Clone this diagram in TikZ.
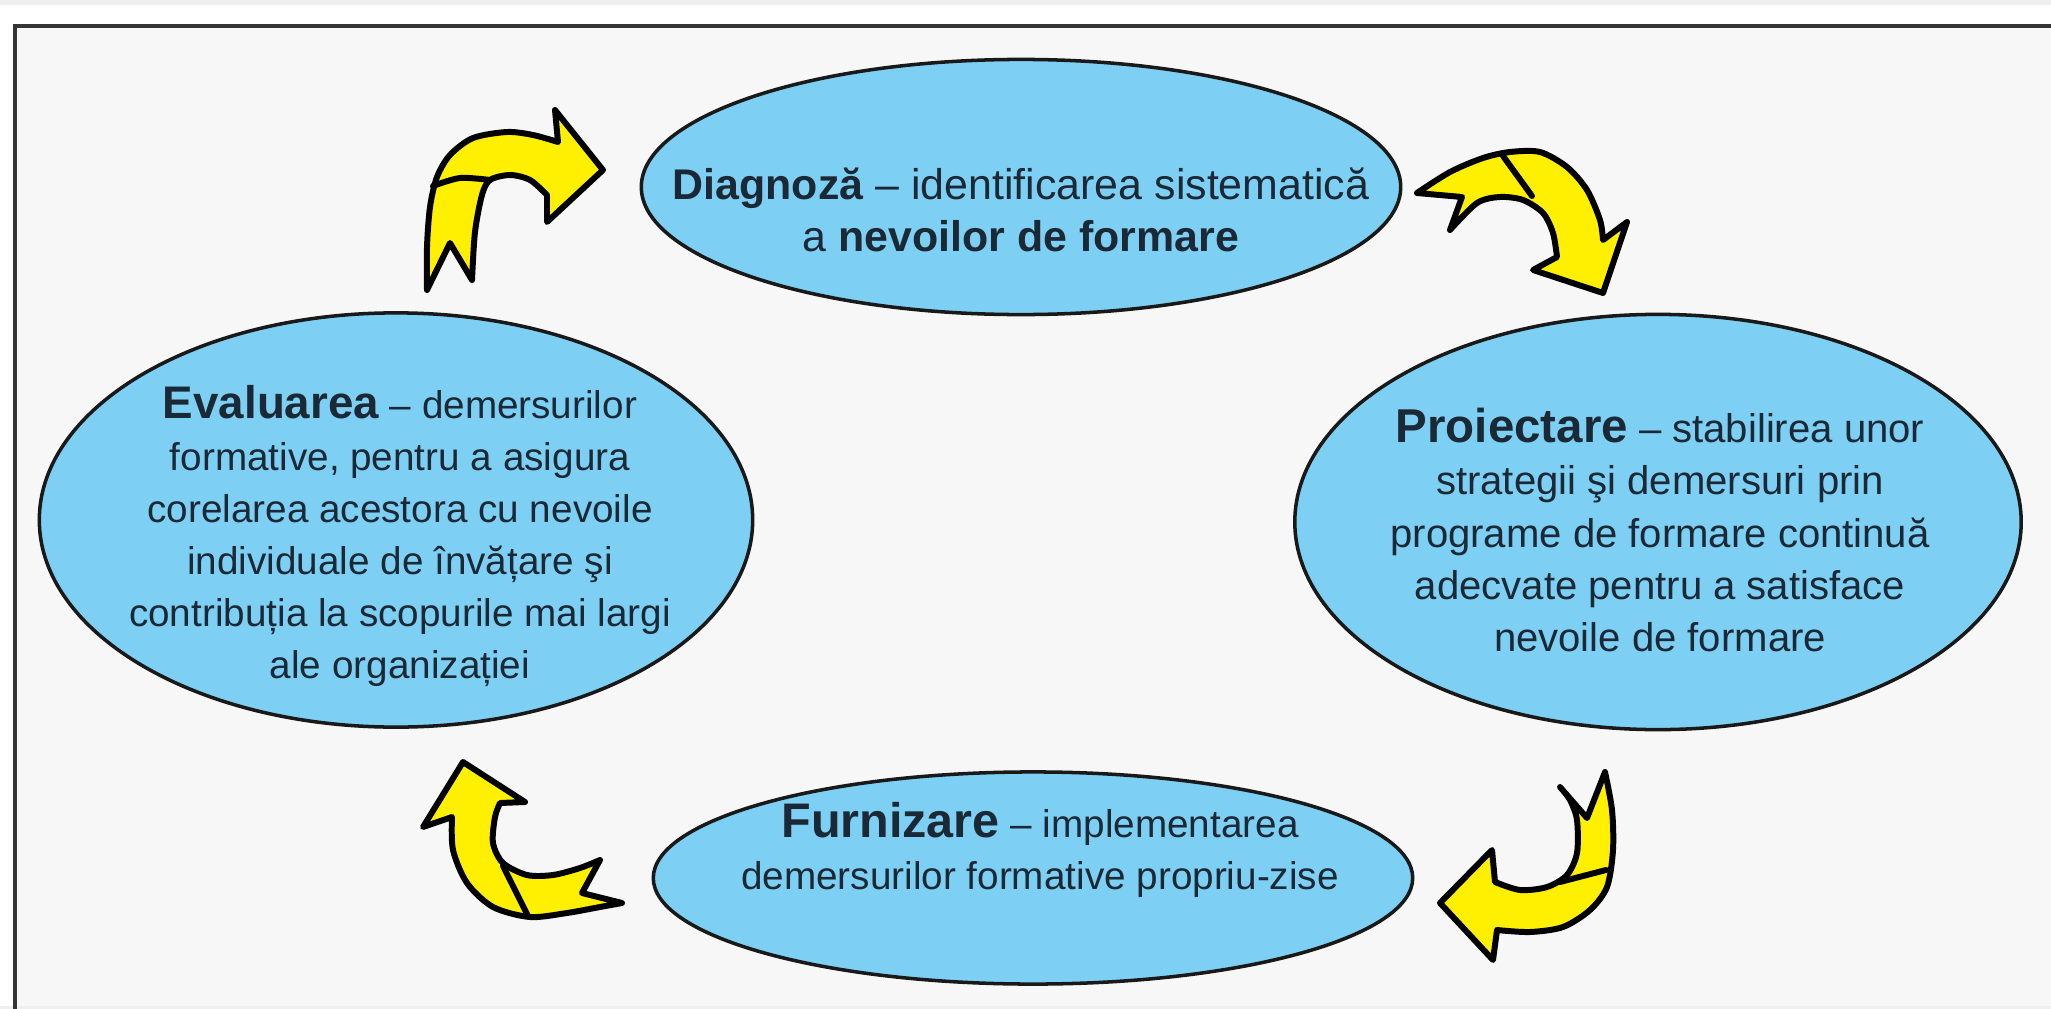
\documentclass[tikz,border=0pt]{standalone}
\usepackage{fontspec}
\setmainfont{Liberation Sans}
\usetikzlibrary{shapes.geometric}
\definecolor{bgc}{HTML}{F7F7F7}
\definecolor{topg}{HTML}{EFEFED}
\definecolor{framec}{HTML}{353535}
\definecolor{blobc}{HTML}{7DD0F3}
\definecolor{txtc}{HTML}{1B2835}
\definecolor{arrc}{HTML}{FFEF00}
\tikzset{
  blob/.style={ellipse, draw=black!90, line width=1pt, fill=blobc, inner sep=0pt},
  txt/.style={align=center, text=txtc, font=\fontsize{11.4}{14.8}\selectfont, inner sep=0pt},
  arr/.style={fill=arrc, draw=black, line width=1.7pt, line join=round},
  fold/.style={draw=black, line width=1.7pt, line cap=round}
}
\newcommand{\hdg}[2]{{\fontsize{#1}{14.8}\selectfont\bfseries #2}}
\begin{document}
\begin{tikzpicture}[x=0.01cm,y=-0.01cm]
\useasboundingbox (0,0) rectangle (2051,1009);
\fill[white] (0,0) rectangle (2051,1009);
\fill[topg] (0,0) rectangle (2051,5);
\fill[bgc] (15,26) rectangle (2051,1009);
\fill[topg] (0,1006) rectangle (2051,1009);
\draw[framec, line width=1.1pt] (2051,26) -- (15,26) -- (15,1009);

% ellipses
\node[blob, minimum width=7.59cm, minimum height=2.55cm] (diag) at (1021,187) {};
\node[blob, minimum width=7.26cm, minimum height=4.15cm] (proi) at (1658,522) {};
\node[blob, minimum width=7.13cm, minimum height=4.14cm] (eval) at (396,520) {};
\node[blob, minimum width=7.59cm, minimum height=2.12cm] (furn) at (1033,878) {};

% texts
\node[txt, font=\fontsize{12.2}{14.8}\selectfont] (diagT) at (1021,210) {\textbf{Diagnoză} – identificarea sistematică\\ a \textbf{nevoilor de formare}};
\node[txt] (proiT) at (1660,530) {\hdg{13.5}{Proiectare} – stabilirea unor\\ strategii şi demersuri prin\\ programe de formare continuă\\ adecvate pentru a satisface\\ nevoile de formare};
\node[txt, font=\fontsize{11}{14.8}\selectfont] (evalT) at (400,536) {\hdg{13}{Evaluarea} – demersurilor\\ formative, pentru a asigura\\ corelarea acestora cu nevoile\\ individuale de învățare şi\\ contribuția la scopurile mai largi\\ ale organizației};
\node[txt, font=\fontsize{11}{14.8}\selectfont] (furnT) at (1040,850) {\hdg{13.8}{Furnizare} – implementarea\\ demersurilor formative propriu-zise};

% arrow 1 (top-left)
\filldraw[arr] plot[smooth] coordinates {(427,290) (427,247) (430,207) (437,177) (450,155) (473,138) (507,132) (533,135) (558,142)}
  -- (555,110) -- (603,170) -- (547,222)
  -- plot[smooth] coordinates {(547,195) (530,180) (510,175) (490,180) (482,195) (475,232) (472,280)}
  -- (450,243) -- cycle;
\draw[fold] plot[smooth] coordinates {(433,186) (460,178) (490,180)};

% arrow 2 (top-right)
\filldraw[arr] plot[smooth] coordinates {(1417,193) (1450,172) (1483,158) (1510,152) (1540,152) (1567,167) (1587,190) (1600,220) (1603,240)}
  -- (1627,222) -- (1603,293) -- (1533,270)
  -- plot[smooth] coordinates {(1557,257) (1553,233) (1543,213) (1523,200) (1500,197) (1477,203) (1450,230)}
  -- (1462,197) -- cycle;
\draw[fold] (1503,156) -- (1532,196);

% arrow 3 (bottom-right)
\filldraw[arr] plot[smooth] coordinates {(1605,772) (1612,810) (1613,850) (1607,887) (1590,910) (1563,927) (1530,932) (1497,930)}
  -- (1493,960) -- (1440,903) -- (1492,850)
  -- plot[smooth] coordinates {(1495,882) (1520,890) (1547,887) (1567,875) (1577,853) (1577,820) (1570,800) (1560,787)}
  -- (1587,818) -- cycle;
\draw[fold] (1560,882) -- (1606,870);

% arrow 4 (bottom-left)
\filldraw[arr] (463,762) -- (525,802)
  -- plot[smooth] coordinates {(500,803) (495,817) (493,843) (503,863) (527,875) (553,875) (580,868) (600,860)}
  -- (582,893)
  -- plot[smooth] coordinates {(622,903) (600,907) (567,913) (530,917) (493,907) (467,883) (453,850) (452,817)}
  -- (423,827) -- cycle;
\draw[fold] (503,866) -- (528,916);
\end{tikzpicture}
\end{document}
